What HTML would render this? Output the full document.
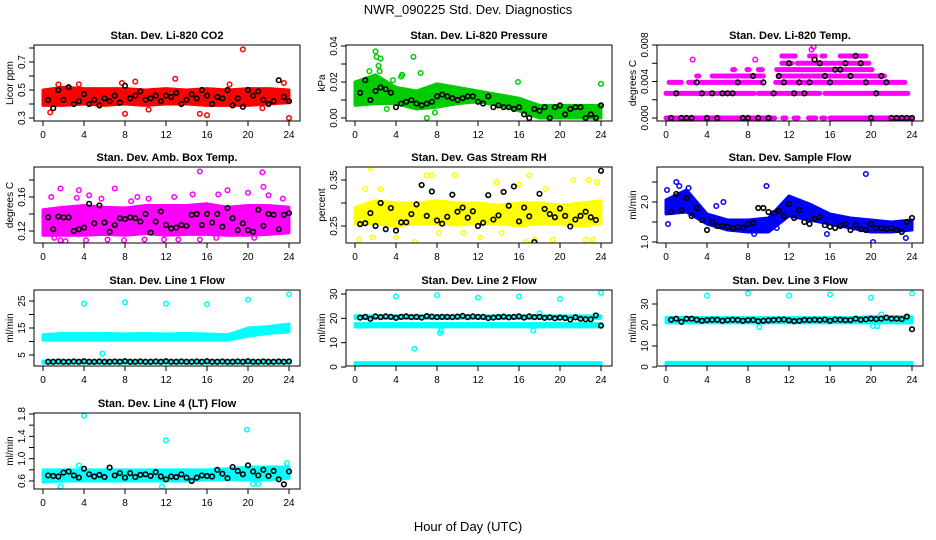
<!DOCTYPE html>
<html><head><meta charset="utf-8"><style>
html,body{margin:0;padding:0;background:#fff;}
svg{display:block;font-family:"Liberation Sans",Arial,sans-serif;}
</style></head><body>
<svg id="chart" width="936" height="540" viewBox="0 0 936 540" xmlns="http://www.w3.org/2000/svg">
<rect width="936" height="540" fill="#fff"/>
<text x="468" y="14" text-anchor="middle" font-size="13">NWR_090225  Std. Dev. Diagnostics</text>
<text x="468" y="531" text-anchor="middle" font-size="13">Hour of Day (UTC)</text>
</svg>
<script>
const xTicks=[0,4,8,12,16,20,24];
const bandHours=[0,2,4,6,8,10,12,14,16,18,20,22,24];
const blackX=[0.5,1,1.5,2,2.5,3,3.5,4, 4.5,5,5.5,6,6.5,7,7.5,8, 8.5,9,9.5,10,10.5,11,11.5,12, 12.5,13,13.5,14,14.5,15,15.5,16, 16.5,17,17.5,18,18.5,19,19.5,20, 20.5,21,21.5,22,22.5,23,23.5,24];

const co2Lo=[0.39,0.39,0.40,0.39,0.40,0.39,0.40,0.40,0.39,0.39,0.39,0.40,0.41];
const co2Hi=[0.50,0.52,0.51,0.51,0.51,0.50,0.51,0.50,0.51,0.50,0.51,0.51,0.50];
const co2ExX=[19.5,24,0.7,8,16,15.3,12.9,9,1.5,7.7,3.5,10.3,21.4,18.2,23.5];
const co2ExY=[0.79,0.30,0.34,0.33,0.32,0.33,0.58,0.56,0.54,0.55,0.54,0.36,0.37,0.54,0.55];
const co2Black=[0.43,0.37,0.50,0.43,0.52,0.40,0.42,0.47, 0.40,0.43,0.39,0.44,0.42,0.46,0.41,0.53, 0.44,0.46,0.49,0.43,0.44,0.46,0.42,0.46, 0.45,0.48,0.40,0.43,0.47,0.44,0.50,0.46, 0.40,0.45,0.44,0.50,0.39,0.44,0.38,0.50, 0.46,0.49,0.43,0.40,0.42,0.57,0.45,0.42];

const presLo=[0.007,0.008,0.008,0.005,0.006,0.008,0.009,0.007,0.004,0.000,0.000,0.000,0.000];
const presHi=[0.020,0.024,0.017,0.015,0.019,0.017,0.015,0.013,0.011,0.007,0.007,0.007,0.007];
const presExX=[2,2.1,2.5,2.3,5.7,6.4,4.5,4.6,3.7,3.1,15.9,24,7,7.8,1.4,2.4];
const presExY=[0.037,0.034,0.033,0.029,0.034,0.025,0.023,0.024,0.021,0.005,0.020,0.019,0.000,0.003,0.026,0.026];
const presBlack=[0.014,0.021,0.010,0.015,0.017,0.016,0.014,0.006, 0.008,0.009,0.010,0.008,0.007,0.008,0.009,0.012, 0.013,0.012,0.011,0.010,0.011,0.012,0.012,0.009, 0.008,0.012,0.006,0.007,0.006,0.006,0.005,0.006, 0.002,0.000,0.005,0.004,0.006,0.000,0.006,0.007, 0.002,0.005,0.006,0.006,0.000,0.002,0.000,0.007];

const tempSegY=[0,0,0,0,0,0, 0.0027,0.0027,0.0027, 0.0039,0.0039,0.0039,0.0039, 0.0046,0.0046,0.0046, 0.0053,0.0053,0.0053,0.0053, 0.006,0.006,0.006, 0.0068,0.0068,0.0068,0.0068];
const tempSegX0=[0,11.4,12.5,13.9,15.2,16, 0,9,15.5, 0.3,2.2,3.4,10.7, 3,4.5,11, 6.5,7.9,9,10.8, 11.3,12.8,16.8, 11.3,14,15.2,17];
const tempSegX1=[10.6,11.7,12.9,14.6,15.5,24, 8.6,15,23.6, 1.5,2.8,9.3,23.3, 3.2,9.5,21.3, 6.7,8.1,9.4,20.1, 12.3,16.5,19.8, 12.6,14.6,15.5,19.5];
const tempExX=[2.6,8.7,14.2,14.4];
const tempExY=[0.0064,0.0064,0.0075,0.0078];
const tempBlack=[0,0.0027,0,0,0,0.0039,0.0027,0, 0.0027,0,0.0027,0.0027,0.0027,0.0039,0,0, 0.0046,0,0.0039,0,0.0027,0.0046,0.0039,0.006, 0.0027,0.0039,0.0027,0.0039,0.0064,0.006,0.0046,0.0039, 0.0053,0.0053,0.006,0.0046,0.0068,0.006,0.0039,0, 0.0027,0.0046,0.0039,0,0,0,0,0];

const ambLo=[0.115,0.115,0.115,0.116,0.115,0.117,0.115,0.116,0.116,0.115,0.115,0.116,0.118];
const ambHi=[0.145,0.148,0.150,0.148,0.147,0.150,0.150,0.150,0.152,0.148,0.150,0.150,0.148];
const ambExX=[1.7,3.5,7,8.6,10.3,12.8,15.3,18,21.4,21.5,0.8,3.3,4.5,5.7,9.2,14.6,17.1,20,22,23.4,1.7,2.2,7.9,15.3,16.9,20.6,11.8,13.2,4.2,1.1,6.3,9.9];
const ambExY=[0.170,0.168,0.170,0.155,0.158,0.160,0.190,0.168,0.189,0.172,0.160,0.159,0.162,0.158,0.160,0.163,0.163,0.165,0.162,0.158,0.109,0.108,0.109,0.110,0.112,0.112,0.110,0.110,0.109,0.112,0.110,0.110];
const ambBlack=[0.136,0.122,0.137,0.136,0.136,0.120,0.122,0.124, 0.152,0.129,0.150,0.130,0.119,0.127,0.135,0.134, 0.136,0.135,0.131,0.140,0.118,0.131,0.143,0.127, 0.123,0.124,0.127,0.126,0.139,0.140,0.127,0.140, 0.130,0.140,0.125,0.147,0.135,0.121,0.129,0.121, 0.119,0.145,0.126,0.140,0.139,0.122,0.139,0.141];

const rhLo=[0.255,0.255,0.25,0.255,0.255,0.252,0.255,0.255,0.25,0.255,0.255,0.25,0.255];
const rhHi=[0.29,0.305,0.30,0.30,0.305,0.30,0.30,0.295,0.30,0.30,0.295,0.30,0.305];
const rhExX=[1.5,1,2.5,7,7.5,9.7,13.8,16,17,18.6,21.3,22.8,23.6,0.4,1.7,5.8,8.2,12.2,16.7,17.5,19.3,22.5,23.2,4,10.6,14.3];
const rhExY=[0.376,0.33,0.33,0.36,0.36,0.36,0.345,0.34,0.36,0.33,0.35,0.35,0.345,0.22,0.225,0.215,0.235,0.225,0.215,0.22,0.22,0.22,0.22,0.225,0.235,0.235];
const rhBlack=[0.254,0.256,0.278,0.250,0.300,0.243,0.289,0.240, 0.258,0.258,0.276,0.297,0.339,0.272,0.325,0.262, 0.255,0.270,0.318,0.281,0.290,0.268,0.282,0.250, 0.257,0.317,0.264,0.273,0.324,0.294,0.336,0.260, 0.290,0.271,0.215,0.320,0.287,0.276,0.269,0.288, 0.272,0.249,0.264,0.272,0.281,0.269,0.263,0.370];

const flowLo=[1.7,1.75,1.45,1.3,1.25,1.25,1.65,1.55,1.45,1.35,1.25,1.25,1.3];
const flowHi=[2.05,2.3,1.7,1.55,1.55,1.6,2.15,1.95,1.7,1.6,1.55,1.5,1.55];
const flowExX=[0.2,1,1.3,2.2,5.6,4.9,8.6,10.8,19.5,20.2,23.4,0.1,15.7,9.8];
const flowExY=[1.45,2.5,2.4,2.35,2.0,1.9,1.2,1.35,2.7,1.0,1.1,2.3,1.2,2.4];
const flowBlack=[1.75,2.2,1.8,2.1,1.65,1.85,1.55,1.3, 1.5,1.4,1.4,1.38,1.35,1.37,1.36,1.45, 1.48,1.85,1.85,1.75,1.72,1.78,1.65,1.95, 1.6,1.8,1.5,1.45,1.58,1.62,1.42,1.38, 1.35,1.40,1.45,1.3,1.42,1.32,1.3,1.45, 1.35,1.35,1.32,1.35,1.3,1.25,1.5,1.6];

const l1UpLo=[10.5,10.5,10.5,10.5,10.5,10.5,10.5,10.5,10.5,10.5,12,13,13.5];
const l1UpHi=[12.5,13,13,13,12.8,13,12.8,13,12.8,12.5,15,15.5,16.5];
const l1BotLo=[2,2,2,2,2,2,2,2,2,2,2,2,2];
const l1BotHi=[2.8,2.8,2.8,2.8,2.8,2.8,2.8,2.8,2.8,2.8,2.8,2.8,2.8];
const l1ExX=[4,8,12,16,20,24,5.8];
const l1ExY=[24,24.5,24,23.8,25.5,27.5,5.5];
const l1Black=[2.5,2.5,2.6,2.5,2.5,2.6,2.5,2.7, 2.5,2.5,2.6,2.5,2.5,2.6,2.5,2.7, 2.5,2.5,2.6,2.5,2.5,2.6,2.5,2.7, 2.5,2.5,2.6,2.5,2.5,2.6,2.5,2.7, 2.5,2.5,2.6,2.5,2.5,2.6,2.5,2.7, 2.5,2.5,2.6,2.5,2.5,2.6,2.5,2.6];

const l2UpLo=[20,20,20,20,20,20,20,20,20,20,20,20,20];
const l2UpHi=[21,21,21,21,21,21,21,21,21,21,21,21,21];
const l2MidLo=[16.5,16.5,16.5,16.5,16.5,16.5,16.5,16.5,16.5,16.5,16.5,16.5,16.5];
const l2MidHi=[17.8,17.8,17.8,17.8,17.8,17.8,17.8,17.8,17.8,17.8,17.8,17.8,17.8];
const l2BotLo=[0.8,0.8,0.8,0.8,0.8,0.8,0.8,0.8,0.8,0.8,0.8,0.8,0.8];
const l2BotHi=[1.8,1.8,1.8,1.8,1.8,1.8,1.8,1.8,1.8,1.8,1.8,1.8,1.8];
const l2ExX=[4,8,12,16,20,24,5.8,8.3,8.4,17.4,18];
const l2ExY=[29,29.5,28.5,29,28,30.5,7.5,14,15,15,22];
const l2Black=[20.3,20.6,19.8,20.8,20.5,20.8,20.6,20.2, 20.6,20.8,20.5,20.6,20.3,20.9,20.7,20.5, 20.6,20.6,20.5,20.7,21.0,20.5,20.8,20.6, 20.6,20.1,20.3,20.5,20.7,20.4,20.6,20.8, 20.3,20.8,20.5,20.6,20.2,20.4,20.0,20.3, 20.1,19.5,20.4,19.8,19.6,19.6,21.2,17.0];

const l3UpLo=[21,21,21,21,21,21,21,21,21,21,21,21,21];
const l3UpHi=[23.5,23.5,23.5,23.5,23.5,23.5,23.5,23.5,23.5,23.5,24,24,24];
const l3BotLo=[0.8,0.8,0.8,0.8,0.8,0.8,0.8,0.8,0.8,0.8,0.8,0.8,0.8];
const l3BotHi=[2.2,2.2,2.2,2.2,2.2,2.2,2.2,2.2,2.2,2.2,2.2,2.2,2.2];
const l3ExX=[4,8,12,16,20,24,9.1,20.2,20.6,21];
const l3ExY=[34,35,34,34.5,33,35,19,19.5,19.5,25];
const l3Black=[22.5,23,21.5,23,23,22.5,22,22.3, 22.5,22.5,22,22.3,22.5,22.4,22,22.3, 22.4,21.8,22,22.2,22.4,22.5,22.6,22.2, 21.8,22,22.4,22.3,22.5,22.3,22.6,22, 22.6,22.5,22.3,22.3,23,22.5,22.7,23, 22.8,23,23.5,23,23,22.8,24,18];

const l4Lo=[0.58,0.6,0.6,0.6,0.6,0.6,0.6,0.6,0.62,0.62,0.62,0.62,0.65];
const l4Hi=[0.8,0.8,0.8,0.8,0.8,0.8,0.8,0.8,0.8,0.82,0.85,0.85,0.85];
const l4ExX=[4,12,19.9,1.7,11.6,20.5,21,23.8,3.5];
const l4ExY=[1.77,1.33,1.52,0.5,0.5,0.55,0.55,0.92,0.88];
const l4Black=[0.7,0.69,0.68,0.75,0.77,0.7,0.66,0.82, 0.72,0.68,0.71,0.67,0.84,0.7,0.74,0.66, 0.74,0.67,0.71,0.72,0.69,0.76,0.68,0.63, 0.68,0.67,0.72,0.66,0.6,0.66,0.7,0.69, 0.68,0.8,0.73,0.65,0.85,0.78,0.72,0.88, 0.77,0.7,0.8,0.69,0.78,0.63,0.54,0.77];

const panels=[
 {name:'co2',title:'Stan. Dev. Li-820 CO2',ylab:'Licor ppm',col:0,row:0,color:'#ff0000',v1:0.3,p1:118,v2:0.7,p2:62,ticks:[0.3,0.4,0.5,0.6,0.7,0.8],labels:['0.3','0.5','0.7'],bands:[[co2Lo,co2Hi]],exX:co2ExX,exY:co2ExY,black:co2Black},
 {name:'pressure',title:'Stan. Dev. Li-820 Pressure',ylab:'kPa',col:1,row:0,color:'#00cc00',v1:0,p1:118,v2:0.04,p2:46,ticks:[0,0.01,0.02,0.03,0.04],labels:['0.00','0.02','0.04'],bands:[[presLo,presHi]],exX:presExX,exY:presExY,black:presBlack},
 {name:'temp',title:'Stan. Dev. Li-820 Temp.',ylab:'degrees C',col:2,row:0,color:'#ff00ff',v1:0,p1:118,v2:0.008,p2:45,ticks:[0,0.002,0.004,0.006,0.008],labels:['0.000','0.004','0.008'],bands:[],segs:true,exX:tempExX,exY:tempExY,black:tempBlack},
 {name:'amb-box-temp',title:'Stan. Dev. Amb. Box Temp.',ylab:'degrees C',col:0,row:1,color:'#ff00ff',v1:0.12,p1:231,v2:0.16,p2:197,ticks:[0.12,0.14,0.16,0.18],labels:['0.12','0.16'],bands:[[ambLo,ambHi]],exX:ambExX,exY:ambExY,black:ambBlack},
 {name:'gas-rh',title:'Stan. Dev. Gas Stream RH',ylab:'percent',col:1,row:1,color:'#ffff00',v1:0.25,p1:226,v2:0.35,p2:180,ticks:[0.25,0.30,0.35],labels:['0.25','0.35'],bands:[[rhLo,rhHi]],exX:rhExX,exY:rhExY,black:rhBlack},
 {name:'sample-flow',title:'Stan. Dev. Sample Flow',ylab:'ml/min',col:2,row:1,color:'#0000ff',v1:1,p1:242,v2:2,p2:202,ticks:[1,1.5,2,2.5],labels:['1.0','2.0'],bands:[[flowLo,flowHi]],exX:flowExX,exY:flowExY,black:flowBlack},
 {name:'line1-flow',title:'Stan. Dev. Line 1 Flow',ylab:'ml/min',col:0,row:2,color:'#00ffff',v1:5,p1:355,v2:25,p2:301,ticks:[5,10,15,20,25],labels:['5','15','25'],bands:[[l1UpLo,l1UpHi],[l1BotLo,l1BotHi]],exX:l1ExX,exY:l1ExY,black:l1Black},
 {name:'line2-flow',title:'Stan. Dev. Line 2 Flow',ylab:'ml/min',col:1,row:2,color:'#00ffff',v1:0,p1:367,v2:30,p2:294,ticks:[0,10,20,30],labels:['0','10','20','30'],bands:[[l2UpLo,l2UpHi],[l2MidLo,l2MidHi],[l2BotLo,l2BotHi]],exX:l2ExX,exY:l2ExY,black:l2Black},
 {name:'line3-flow',title:'Stan. Dev. Line 3 Flow',ylab:'ml/min',col:2,row:2,color:'#00ffff',v1:0,p1:367,v2:30,p2:304,ticks:[0,10,20,30],labels:['0','10','20','30'],bands:[[l3UpLo,l3UpHi],[l3BotLo,l3BotHi]],exX:l3ExX,exY:l3ExY,black:l3Black},
 {name:'line4-flow',title:'Stan. Dev. Line 4 (LT) Flow',ylab:'ml/min',col:0,row:3,color:'#00ffff',v1:0.6,p1:481,v2:1.8,p2:414,ticks:[0.6,0.8,1.0,1.2,1.4,1.6,1.8],labels:['0.6','1.0','1.4','1.8'],bands:[[l4Lo,l4Hi]],exX:l4ExX,exY:l4ExY,black:l4Black}
];
const colL=[34,346,657], rowT=[45,167,290,413], W=266, H=76;
const NS='http://www.w3.org/2000/svg';
const svg=document.getElementById('chart');
function mk(tag,attrs,parent){const e=document.createElementNS(NS,tag);for(const k in attrs)e.setAttribute(k,attrs[k]);(parent||svg).appendChild(e);return e;}

panels.forEach((p,pi)=>{
  const L=colL[p.col],T=rowT[p.row],B=T+H,R=L+W;
  const xs=h=>L+9+h*(246/24);
  const ys=v=>p.p1+(v-p.v1)*(p.p2-p.p1)/(p.v2-p.v1);
  const g=mk('g',{});
  
  
  const cp=mk('clipPath',{id:'cp'+pi},g);
  mk('rect',{x:L,y:T,width:W,height:H},cp);
  const t=mk('text',{x:(L+R)/2,y:T-6,'text-anchor':'middle','font-size':11,'font-weight':'bold'},g);
  t.textContent=p.title;
  
  
  const yl=mk('text',{x:0,y:0,'text-anchor':'middle','font-size':10,transform:`translate(${L-21},${(T+B)/2}) rotate(-90)`},g);
  yl.textContent=p.ylab;
  
  
  const plot=mk('g',{'clip-path':`url(#cp${pi})`},g);
  
  
  p.bands.forEach((bd,bi)=>{
    const lo=bd[0],hi=bd[1];
    let pts=bandHours.map((h,i)=>xs(h)+','+ys(hi[i]));
    pts=pts.concat(bandHours.slice().reverse().map((h,k)=>{const i=bandHours.length-1-k;return xs(h)+','+ys(lo[i]);}));
    const poly=mk('polygon',{points:pts.join(' '),fill:p.color,stroke:p.color,'stroke-width':3,'stroke-linejoin':'round'},plot);
    
    
  });
  if(p.segs){
    tempSegY.forEach((v,i)=>{
      const s=mk('line',{x1:xs(tempSegX0[i]),x2:xs(tempSegX1[i]),y1:ys(v),y2:ys(v),stroke:p.color,'stroke-width':5,'stroke-linecap':'round'},plot);
      
      
    });
  }
  p.exX.forEach((x,i)=>{
    const c=mk('circle',{cx:xs(x),cy:ys(p.exY[i]),r:2.3,fill:'none',stroke:p.color,'stroke-width':1.5},plot);
    
    
  });
  p.black.forEach((v,i)=>{
    const c=mk('circle',{cx:xs(blackX[i]),cy:ys(v),r:2.3,fill:'none',stroke:'#000','stroke-width':1.6},plot);
    
    
  });
  const box=mk('rect',{x:L,y:T,width:W,height:H,fill:'none',stroke:'#000','stroke-width':1},g);
  
  
  xTicks.forEach(h=>{
    mk('line',{x1:xs(h),x2:xs(h),y1:B,y2:B+5,stroke:'#000'},g);
    const tl=mk('text',{x:xs(h),y:B+17,'text-anchor':'middle','font-size':10},g);
    tl.textContent=h;
    
    
  });
  p.ticks.forEach(v=>{
    mk('line',{x1:L-5,x2:L,y1:ys(v),y2:ys(v),stroke:'#000'},g);
  });
  p.labels.forEach(s=>{
    const v=parseFloat(s);
    const tl=mk('text',{x:0,y:0,'text-anchor':'middle','font-size':10,transform:`translate(${L-9},${ys(v)}) rotate(-90)`},g);
    tl.textContent=s;
    
    
  });
});
</script>
</body></html>
